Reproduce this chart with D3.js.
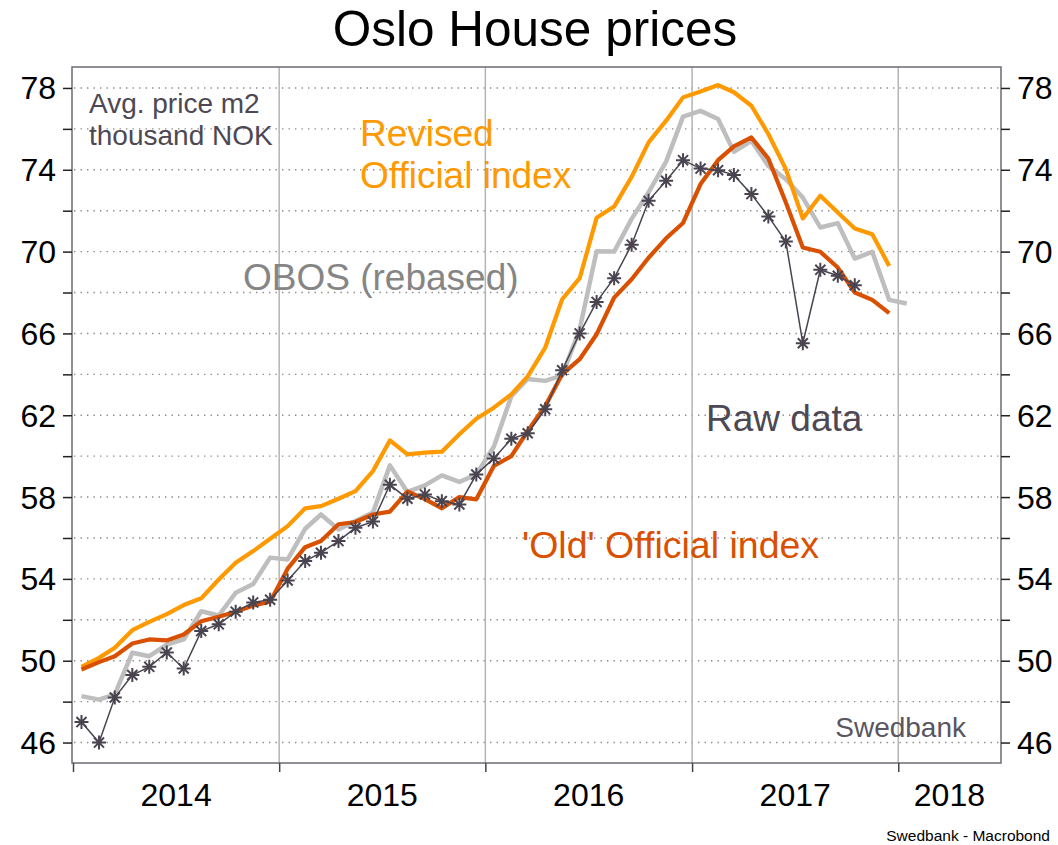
<!DOCTYPE html>
<html>
<head>
<meta charset="utf-8">
<script src="https://cdn.jsdelivr.net/npm/d3@7"></script>
<style>
  html, body { margin: 0; padding: 0; background: #ffffff; }
  svg { display: block; font-family: "Liberation Sans", Arial, Helvetica, sans-serif; }
</style>
</head>
<body>
<svg id="chart" width="1058" height="845"></svg>
<script>
// ---------------- DATA ----------------
const months = [
  "2014-01","2014-02","2014-03","2014-04","2014-05","2014-06","2014-07","2014-08","2014-09","2014-10","2014-11","2014-12",
  "2015-01","2015-02","2015-03","2015-04","2015-05","2015-06","2015-07","2015-08","2015-09","2015-10","2015-11","2015-12",
  "2016-01","2016-02","2016-03","2016-04","2016-05","2016-06","2016-07","2016-08","2016-09","2016-10","2016-11","2016-12",
  "2017-01","2017-02","2017-03","2017-04","2017-05","2017-06","2017-07","2017-08","2017-09","2017-10","2017-11","2017-12",
  "2018-01"
];

// OBOS (rebased), Jan 2014 - Jan 2018
const obosRebased = [
  48.27, 48.10, 48.35, 50.39, 50.22, 50.79, 51.04, 52.42, 52.21, 53.32, 53.75, 55.04,
  54.95, 56.45, 57.15, 56.42, 56.83, 57.24, 59.55, 58.25, 58.57, 59.06, 58.74, 59.11,
  60.46, 62.93, 63.77, 63.68, 63.95, 66.20, 70.02, 70.00, 71.60, 72.90, 74.40, 76.60,
  76.88, 76.48, 74.88, 75.42, 74.19, 73.54, 72.64, 71.18, 71.39, 69.66, 69.99, 67.64,
  67.46
];

// Revised official index, Jan 2014 - Dec 2017
const revisedIndex = [
  49.70, 50.14, 50.63, 51.49, 51.90, 52.28, 52.72, 53.05, 53.97, 54.79, 55.36, 55.96,
  56.58, 57.45, 57.56, 57.92, 58.29, 59.27, 60.77, 60.09, 60.17, 60.22, 61.07, 61.83,
  62.37, 63.02, 63.90, 65.31, 67.67, 68.70, 71.65, 72.20, 73.65, 75.34, 76.40, 77.54,
  77.83, 78.14, 77.79, 77.13, 75.75, 74.03, 71.62, 72.73, 71.91, 71.13, 70.85, 69.30
];

// 'Old' official index, Jan 2014 - Dec 2017
const oldIndex = [
  49.57, 49.93, 50.22, 50.84, 51.04, 50.99, 51.28, 51.93, 52.15, 52.39, 52.70, 52.88,
  54.50, 55.55, 55.85, 56.67, 56.78, 57.15, 57.29, 58.27, 57.90, 57.45, 58.00, 57.89,
  59.52, 60.00, 61.23, 62.45, 64.00, 64.74, 65.96, 67.75, 68.65, 69.70, 70.65, 71.40,
  73.30, 74.47, 75.14, 75.58, 74.55, 72.40, 70.20, 69.99, 69.22, 68.00, 67.64, 66.99
];

// Raw data, Jan 2014 - Oct 2017
const rawData = [
  47.00, 46.00, 48.20, 49.30, 49.70, 50.40, 49.62, 51.45, 51.78, 52.40, 52.85, 52.98,
  53.92, 54.87, 55.28, 55.85, 56.50, 56.80, 58.60, 57.92, 58.13, 57.80, 57.64, 59.10,
  59.89, 60.85, 61.12, 62.29, 64.20, 66.00, 67.54, 68.70, 70.34, 72.48, 73.46, 74.47,
  74.06, 73.98, 73.75, 72.81, 71.72, 70.49, 65.52, 69.11, 68.82, 68.36
];

const yGridValues = [46, 48, 50, 52, 54, 56, 58, 60, 62, 64, 66, 68, 70, 72, 74, 76, 78];
const yLabelValues = [46, 50, 54, 58, 62, 66, 70, 74, 78];
const yearTickDates = ["2014-01-01", "2015-01-01", "2016-01-01", "2017-01-01", "2018-01-01"];
const yearLabels = ["2014", "2015", "2016", "2017", "2018"];

// ---------------- CHART ----------------
const svg = d3.select("#chart");
const W = 1058, H = 845;
const pL = 72, pR = 1001, pT = 67, pB = 763;

const parseMonth = d3.timeParse("%Y-%m");
const parseDay = d3.timeParse("%Y-%m-%d");
const monthDates = months.map(m => d3.timeDay.offset(parseMonth(m), 15));

const x = d3.scaleTime()
  .domain([parseDay("2014-01-01"), parseDay("2018-07-01")])
  .range([pL + 1, pR - 0.5]);
const y = d3.scaleLinear().domain([45, 79]).range([pB, pT + 0.5]);

svg.append("rect").attr("width", W).attr("height", H).attr("fill", "#fff");

// Title
svg.append("text")
  .attr("x", 535).attr("y", 46)
  .attr("text-anchor", "middle")
  .attr("font-size", 49.5)
  .attr("fill", "#000")
  .text("Oslo House prices");

// horizontal dotted gridlines
svg.append("g").selectAll("line").data(yGridValues).join("line")
  .attr("x1", pL + 2).attr("x2", pR - 2)
  .attr("y1", d => y(d)).attr("y2", d => y(d))
  .attr("stroke", "#8a8a8a").attr("stroke-width", 1.4)
  .attr("stroke-dasharray", "1.4,5.1");

// vertical year gridlines
const yearDates = yearTickDates.map(parseDay);
svg.append("g").selectAll("line").data(yearDates.slice(1)).join("line")
  .attr("x1", d => x(d)).attr("x2", d => x(d))
  .attr("y1", pT).attr("y2", pB)
  .attr("stroke", "#b4b4b4").attr("stroke-width", 1.5);

// Frame
svg.append("rect")
  .attr("x", pL).attr("y", pT)
  .attr("width", pR - pL).attr("height", pB - pT)
  .attr("fill", "none").attr("stroke", "#6f6a74").attr("stroke-width", 1.5);

// Left axis
const yAxisL = d3.axisLeft(y).tickValues(yGridValues).tickSize(9).tickFormat("");
const gL = svg.append("g").attr("transform", `translate(${pL},0)`).call(yAxisL);
gL.select(".domain").remove();
gL.selectAll(".tick line").attr("stroke", "#222").attr("stroke-width", 1.5);
svg.append("g").selectAll("text").data(yLabelValues).join("text")
  .attr("x", 56).attr("y", d => y(d))
  .attr("dy", "0.36em")
  .attr("text-anchor", "end")
  .attr("font-size", 32).attr("fill", "#000")
  .text(d => d);

// Right axis
const yAxisR = d3.axisRight(y).tickValues(yGridValues).tickSize(9).tickFormat("");
const gR = svg.append("g").attr("transform", `translate(${pR},0)`).call(yAxisR);
gR.select(".domain").remove();
gR.selectAll(".tick line").attr("stroke", "#222").attr("stroke-width", 1.5);
svg.append("g").selectAll("text").data(yLabelValues).join("text")
  .attr("x", 1017).attr("y", d => y(d))
  .attr("dy", "0.36em")
  .attr("text-anchor", "start")
  .attr("font-size", 32).attr("fill", "#000")
  .text(d => d);

// Bottom axis ticks
const xAxis = d3.axisBottom(x).tickValues(yearDates).tickSize(9).tickFormat("");
const gB = svg.append("g").attr("transform", `translate(0,${pB})`).call(xAxis);
gB.select(".domain").remove();
gB.selectAll(".tick line").attr("stroke", "#444").attr("stroke-width", 1.5);

// Year labels centered within each visible year span
const xEnd = x.domain()[1];
svg.append("g").selectAll("text").data(yearLabels).join("text")
  .attr("x", (d, i) => {
    const a = yearDates[i];
    const b = i < yearDates.length - 1 ? yearDates[i + 1] : xEnd;
    return (x(a) + x(b)) / 2;
  })
  .attr("y", 806)
  .attr("text-anchor", "middle")
  .attr("font-size", 32).attr("fill", "#000")
  .text(d => d);

// Lines
const line = d3.line().x(d => x(d[0])).y(d => y(d[1]));
const pairs = arr => arr.map((v, i) => [monthDates[i], v]);

svg.append("path").datum(pairs(obosRebased))
  .attr("d", line).attr("fill", "none")
  .attr("stroke", "#bebebe").attr("stroke-width", 4.5).attr("stroke-linejoin", "round");

svg.append("path").datum(pairs(revisedIndex))
  .attr("d", line).attr("fill", "none")
  .attr("stroke", "#ff9900").attr("stroke-width", 4.2).attr("stroke-linejoin", "round");

svg.append("path").datum(pairs(oldIndex))
  .attr("d", line).attr("fill", "none")
  .attr("stroke", "#d95000").attr("stroke-width", 4.2).attr("stroke-linejoin", "round");

const rawPts = pairs(rawData);
svg.append("path").datum(rawPts)
  .attr("d", line).attr("fill", "none")
  .attr("stroke", "#4a4450").attr("stroke-width", 1.5);

const r = 7;
const starPath = `M0,${-r}V${r}M${-r},0H${r}M${-r*0.72},${-r*0.72}L${r*0.72},${r*0.72}M${-r*0.72},${r*0.72}L${r*0.72},${-r*0.72}`;
svg.append("g").selectAll("path").data(rawPts).join("path")
  .attr("transform", d => `translate(${x(d[0])},${y(d[1])})`)
  .attr("d", starPath)
  .attr("stroke", "#4a4450").attr("stroke-width", 2).attr("fill", "none");

// Annotations
svg.append("text").attr("x", 89).attr("y", 113)
  .attr("font-size", 28).attr("fill", "#4d4853").text("Avg. price m2");
svg.append("text").attr("x", 89).attr("y", 145)
  .attr("font-size", 28).attr("fill", "#4d4853").text("thousand NOK");

svg.append("text").attr("x", 360).attr("y", 146)
  .attr("font-size", 37).attr("fill", "#ff9900").text("Revised");
svg.append("text").attr("x", 360).attr("y", 188)
  .attr("font-size", 37).attr("fill", "#ff9900").text("Official index");

svg.append("text").attr("x", 243).attr("y", 290)
  .attr("font-size", 37).attr("fill", "#858585").text("OBOS (rebased)");

svg.append("text").attr("x", 706).attr("y", 431)
  .attr("font-size", 37).attr("fill", "#4d4853").text("Raw data");

svg.append("text").attr("x", 522).attr("y", 558)
  .attr("font-size", 37.5).attr("fill", "#d95000").text("'Old' Official index");

svg.append("text").attr("x", 966).attr("y", 737)
  .attr("text-anchor", "end")
  .attr("font-size", 28).attr("fill", "#5a5560").text("Swedbank");

svg.append("text").attr("x", 1050).attr("y", 841)
  .attr("text-anchor", "end")
  .attr("font-size", 15.5).attr("fill", "#000").text("Swedbank - Macrobond");
</script>
</body>
</html>
